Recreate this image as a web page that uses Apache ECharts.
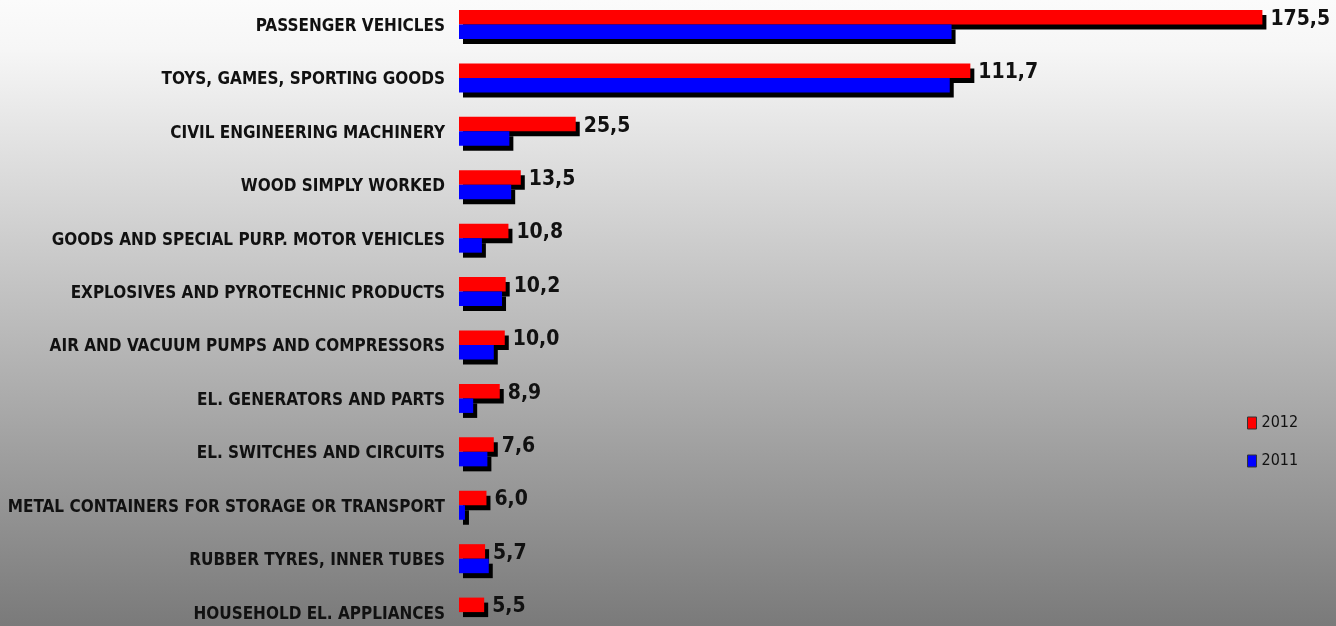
<!DOCTYPE html>
<html>
<head>
<meta charset="utf-8">
<script src="https://cdn.jsdelivr.net/npm/echarts@6/dist/echarts.min.js"></script>
<style>
html,body{margin:0;padding:0;}
#c{width:1336px;height:626px;background:linear-gradient(to bottom,#fbfbfb 0%,#f6f6f6 8%,#7a7a7a 100%);}
</style>
</head>
<body>
<div id="c"></div>
<script>
const categories = [
  'PASSENGER VEHICLES',
  'TOYS, GAMES, SPORTING GOODS',
  'CIVIL ENGINEERING MACHINERY',
  'WOOD SIMPLY WORKED',
  'GOODS AND SPECIAL PURP. MOTOR VEHICLES',
  'EXPLOSIVES AND PYROTECHNIC PRODUCTS',
  'AIR AND VACUUM PUMPS AND COMPRESSORS',
  'EL. GENERATORS AND PARTS',
  'EL. SWITCHES AND CIRCUITS',
  'METAL CONTAINERS FOR STORAGE OR TRANSPORT',
  'RUBBER TYRES, INNER TUBES',
  'HOUSEHOLD EL. APPLIANCES'
];
const values2012 = [175.5, 111.7, 25.5, 13.5, 10.8, 10.2, 10.0, 8.9, 7.6, 6.0, 5.7, 5.5];
const values2011 = [107.6, 107.2, 11.0, 11.4, 5.0, 9.4, 7.6, 3.1, 6.2, 1.3, 6.5, null];
const seriesNames = ['2012', '2011'];

const FONT = '"Liberation Sans Narrow","Arial Narrow","DejaVu Sans Condensed",sans-serif';
const chart = echarts.init(document.getElementById('c'), null, {renderer: 'canvas'});
const shadow = {shadowColor: '#000', shadowBlur: 0, shadowOffsetX: 4, shadowOffsetY: 5};
chart.setOption({
  backgroundColor: 'transparent',
  animation: false,
  legend: {
    orient: 'vertical',
    left: 1242,
    top: 410,
    itemWidth: 9,
    itemHeight: 12,
    itemGap: 22,
    icon: 'rect',
    data: seriesNames,
    itemStyle: {borderColor: '#333', borderWidth: 1, shadowColor: 'rgba(0,0,0,0)', shadowOffsetX: 0, shadowOffsetY: 0},
    textStyle: {fontFamily: FONT, fontSize: 16, color: '#111'}
  },
  grid: {left: 459, top: -2.2, width: 824, height: 641, containLabel: false, outerBoundsMode: 'none'},
  xAxis: {
    type: 'value', min: 0, max: 180, show: false
  },
  yAxis: {
    type: 'category',
    inverse: true,
    data: categories,
    axisLine: {show: false},
    axisTick: {show: false},
    axisLabel: {
      margin: 14, color: '#111',
      formatter: v => '{a|' + v + '}',
      rich: {a: {fontFamily: FONT, fontWeight: 'bold', fontSize: 17, color: '#111', padding: [4, 0, 0, 0]}}
    }
  },
  series: [
    {
      name: seriesNames[0], type: 'bar', data: values2012, barWidth: 14.5, barGap: '0%',
      itemStyle: Object.assign({color: '#ff0000'}, shadow),
      label: {
        show: true, position: 'right', distance: 8, offset: [0, 2],
        fontFamily: FONT, fontWeight: 'bold', fontSize: 21, color: '#111',
        formatter: p => p.value.toFixed(1).replace('.', ',')
      }
    },
    {
      name: seriesNames[1], type: 'bar', data: values2011, barWidth: 14.5, barGap: '0%',
      itemStyle: Object.assign({color: '#0000ff'}, shadow)
    }
  ]
});
</script>
</body>
</html>
